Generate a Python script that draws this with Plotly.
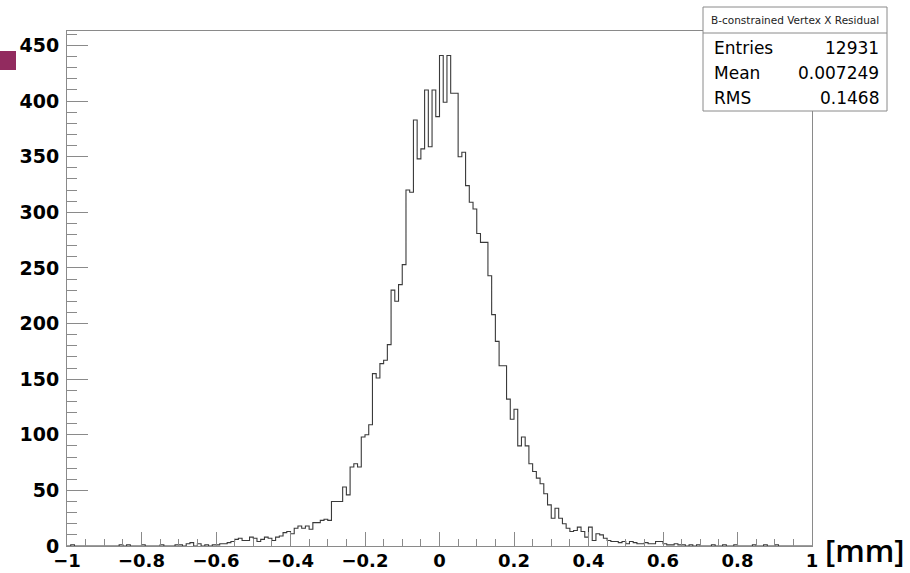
import plotly.graph_objects as go

# ---------------- data ----------------
x_min, x_max, n_bins = -1.0, 1.0, 200

counts = [
    # -1.00 .. -0.61
    0, 1, 0, 0, 0, 0, 0, 0, 0, 0,
    0, 0, 0, 0, 1, 0, 1, 0, 0, 0,
    1, 0, 0, 0, 0, 1, 0, 0, 0, 1,
    1, 0, 2, 3, 0, 2, 0, 1, 0, 1,
    # -0.60 .. -0.31
    1, 2, 2, 3, 4, 6, 7, 5, 5, 8,
    7, 4, 6, 8, 7, 5, 8, 9, 12, 13,
    11, 16, 18, 16, 18, 15, 21, 21, 23, 24,
    # -0.30 .. -0.01
    23, 40, 40, 40, 53, 46, 71, 74, 71, 98,
    100, 109, 155, 151, 164, 167, 181, 230, 220, 235,
    253, 320, 318, 383, 348, 357, 410, 359, 410, 386,
    # 0.00 .. 0.29
    441, 399, 441, 407, 407, 350, 354, 324, 309, 303,
    281, 273, 273, 243, 208, 184, 162, 162, 132, 114,
    123, 90, 98, 90, 74, 67, 61, 56, 47, 37,
    # 0.30 .. 0.59
    25, 34, 25, 20, 16, 13, 14, 17, 13, 8,
    17, 5, 11, 10, 7, 5, 4, 4, 3, 4,
    2, 4, 3, 2, 2, 3, 2, 2, 4, 4,
    # 0.60 .. 0.99
    2, 1, 1, 2, 1, 1, 0, 1, 0, 1,
    0, 0, 0, 1, 0, 0, 1, 0, 0, 1,
    0, 0, 0, 0, 1, 0, 0, 1, 0, 0,
    1, 0, 0, 0, 0, 0, 0, 0, 0, 0,
]

stats_title = "B-constrained Vertex X Residual"
stats_labels = ["Entries", "Mean", "RMS"]
stats_values = ["12931", "0.007249", "0.1468"]
x_unit = "[mm]"
y_max = 463

# ---------------- layout geometry ----------------
W, H = 910, 573
ML, MR, MT, MB = 67, 98, 31, 27
PW, PH = W - ML - MR, H - MT - MB


def px_x(px):
    return (px - ML) / PW


def px_y(py):
    return (H - MB - py) / PH


width = (x_max - x_min) / n_bins
edges = [x_min + i * width for i in range(n_bins + 1)]
ys = list(counts) + [counts[-1]]

AX = "#8a8a8a"
fig = go.Figure()
fig.add_trace(go.Scatter(
    x=edges, y=ys, mode="lines", line_shape="hv",
    line=dict(color="#3a3a3a", width=1.1), hoverinfo="skip", showlegend=False,
))

tickfont = dict(family="DejaVu Sans", size=19, color="black", weight="bold")
xtickfont = dict(family="DejaVu Sans", size=18, color="black", weight="bold")

fig.update_layout(
    width=W, height=H,
    margin=dict(l=ML, r=MR, t=MT, b=MB, pad=0, autoexpand=False),
    paper_bgcolor="white", plot_bgcolor="white",
    xaxis=dict(
        range=[x_min, x_max], dtick=0.2, tick0=-1, showgrid=False, zeroline=False,
        showline=True, linecolor=AX, linewidth=1, mirror=True, automargin=False,
        ticks="inside", ticklen=14, tickcolor=AX, tickwidth=1,
        minor=dict(dtick=0.05, ticks="inside", ticklen=7, tickcolor=AX, tickwidth=1, showgrid=False),
        tickfont=xtickfont, ticklabelstandoff=-2,
    ),
    yaxis=dict(
        range=[0, y_max], dtick=50, tick0=0, showgrid=False, zeroline=False,
        showline=True, linecolor=AX, linewidth=1, mirror=True, automargin=False,
        ticks="inside", ticklen=21, tickcolor=AX, tickwidth=1,
        minor=dict(dtick=10, ticks="inside", ticklen=10, tickcolor=AX, tickwidth=1, showgrid=False),
        tickfont=tickfont, ticklabelstandoff=3,
    ),
)

shapes = []
# purple marker square at top-left
shapes.append(dict(type="rect", xref="paper", yref="paper",
                   x0=px_x(0), x1=px_x(16), y0=px_y(70), y1=px_y(51),
                   fillcolor="#922b5f", line=dict(width=0), layer="above"))
# stats box
shapes.append(dict(type="rect", xref="paper", yref="paper",
                   x0=px_x(703), x1=px_x(887), y0=px_y(111), y1=px_y(7),
                   fillcolor="white", line=dict(color=AX, width=1), layer="above"))
shapes.append(dict(type="line", xref="paper", yref="paper",
                   x0=px_x(703), x1=px_x(887), y0=px_y(33), y1=px_y(33),
                   line=dict(color=AX, width=1), layer="above"))
fig.update_layout(shapes=shapes)

ann = []
ann.append(dict(text=stats_title, xref="paper", yref="paper", x=px_x(795), y=px_y(20),
                xanchor="center", yanchor="middle", showarrow=False,
                font=dict(family="DejaVu Sans", size=10.5, color="#222")))
rows_y = [48, 73, 98]
for lab, val, ry in zip(stats_labels, stats_values, rows_y):
    ann.append(dict(text=lab, xref="paper", yref="paper", x=px_x(712), y=px_y(ry),
                    xanchor="left", yanchor="middle", showarrow=False,
                    font=dict(family="DejaVu Sans", size=17, color="black")))
    ann.append(dict(text=val, xref="paper", yref="paper", x=px_x(881), y=px_y(ry),
                    xanchor="right", yanchor="middle", showarrow=False,
                    font=dict(family="DejaVu Sans", size=17, color="black")))
ann.append(dict(text=x_unit, xref="paper", yref="paper", x=px_x(865), y=px_y(550),
                xanchor="center", yanchor="middle", showarrow=False,
                font=dict(family="Open Sans", size=31, color="black", weight=600)))
fig.update_layout(annotations=ann)

fig.write_html("out.html")
